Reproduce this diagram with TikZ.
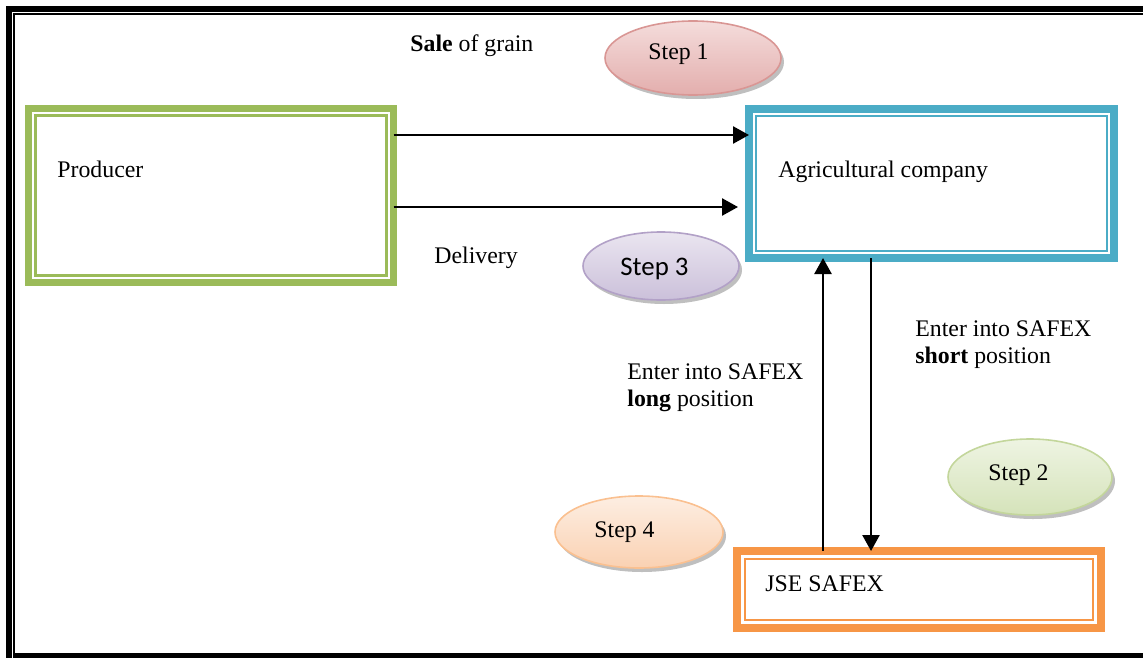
\documentclass[tikz,border=0pt]{standalone}
\usepackage{fontspec}
\setmainfont{Liberation Serif}
\newfontfamily\calfont{Carlito}
\usetikzlibrary{arrows.meta,shapes.geometric,shadows}
\definecolor{grn}{HTML}{9BBB59}
\definecolor{blu}{HTML}{4BACC6}
\definecolor{org}{HTML}{F79646}
\definecolor{redTop}{HTML}{F4DCDB}
\definecolor{redBot}{HTML}{E3AEAD}
\definecolor{redLine}{HTML}{D99694}
\definecolor{grnTop}{HTML}{EEF4E2}
\definecolor{grnBot}{HTML}{D5E3BA}
\definecolor{grnLine}{HTML}{C3D69B}
\definecolor{purTop}{HTML}{EAE5F0}
\definecolor{purBot}{HTML}{CBC0DA}
\definecolor{purLine}{HTML}{B2A1C7}
\definecolor{orgTop}{HTML}{FDEEE2}
\definecolor{orgBot}{HTML}{FAD1B2}
\definecolor{orgLine}{HTML}{FAC090}
\tikzset{
  txt/.style={font=\fontsize{11.9}{13.5}\selectfont, inner sep=0pt, align=left},
  boxst/.style={draw=#1, line width=3.8pt, fill=white, inner sep=0pt, outer sep=0pt, rectangle},
  innerln/.style={draw=#1, line width=1.2pt},
  stepell/.style n args={3}{ellipse, draw=#3, line width=0.8pt, top color=#1, bottom color=#2,
    inner sep=0pt, drop shadow={shadow xshift=1.5pt, shadow yshift=-2pt, fill=black, opacity=0.25}},
  arr/.style={line width=1.2pt, -{Triangle[length=8pt,width=8.5pt]}}
}
\begin{document}
\begin{tikzpicture}[x=0.5pt,y=-0.5pt]
\useasboundingbox (0,0) rectangle (1143,658);
% page frame
\fill[black] (6,6) rectangle (1143,12);
\fill[black] (13,13) rectangle (1143,15);
\fill[black] (6,6) rectangle (12,658);
\fill[black] (13,13) rectangle (15,658);
\fill[black] (13,653) rectangle (1143,658);

% boxes
\node[boxst=grn, minimum width=182.5pt, minimum height=87pt] (prod) at (211,195.5) {};
\draw[innerln=grn] ([shift={(7,7)}]prod.north west) rectangle ([shift={(-7,-7)}]prod.south east);
\node[boxst=blu, minimum width=182.5pt, minimum height=74.5pt] (agri) at (931.5,183.5) {};
\draw[innerln=blu] ([shift={(7,7)}]agri.north west) rectangle ([shift={(-7,-7)}]agri.south east);
\node[boxst=org, minimum width=182pt, minimum height=38.5pt] (jse) at (919,589.5) {};
\draw[innerln=org] ([shift={(8,8)}]jse.north west) rectangle ([shift={(-8,-8)}]jse.south east);

\node[txt, anchor=base west] (prodt) at (57,177) {Producer};
\node[txt, anchor=base west] (agrit) at (778,177) {Agricultural company};
\node[txt, anchor=base west] (jset) at (765,591) {JSE SAFEX};

% ellipses
\node[stepell={redTop}{redBot}{redLine}, minimum width=88pt, minimum height=37pt] (s1) at (693,58) {};
\node[txt, anchor=base west] (s1t) at (648,60) {Step 1};
\node[stepell={grnTop}{grnBot}{grnLine}, minimum width=82pt, minimum height=38pt] (s2) at (1030,477) {};
\node[txt, anchor=base west] (s2t) at (988,480) {Step 2};
\node[stepell={purTop}{purBot}{purLine}, minimum width=78pt, minimum height=34pt] (s3) at (661,266) {};
\node[txt, anchor=base west, font=\calfont\fontsize{13.4}{15}\selectfont] (s3t) at (620,275) {Step 3};
\node[stepell={orgTop}{orgBot}{orgLine}, minimum width=84pt, minimum height=36pt] (s4) at (639,532) {};
\node[txt, anchor=base west] (s4t) at (594,537) {Step 4};

% labels
\node[txt, anchor=base west] (sale) at (410,52) {\textbf{Sale} of grain};
\node[txt, anchor=base west] (deliv) at (434,263) {Delivery};
\node[txt, anchor=base west] (longl) at (627,406) {Enter into SAFEX\\\textbf{long} position};
\node[txt, anchor=base west] (shortl) at (915,363) {Enter into SAFEX\\\textbf{short} position};

% arrows
\draw[arr] (prod.east |- {(0,135)}) -- (agri.west |- {(0,135)});
\draw[arr, shorten >=5.5pt] (prod.east |- {(0,207)}) -- (agri.west |- {(0,207)});
\draw[arr] (jse.north -| {(823,0)}) -- (agri.south -| {(823,0)});
\draw[arr] (agri.south -| {(871,0)}) -- (jse.north -| {(871,0)});
\end{tikzpicture}
\end{document}
